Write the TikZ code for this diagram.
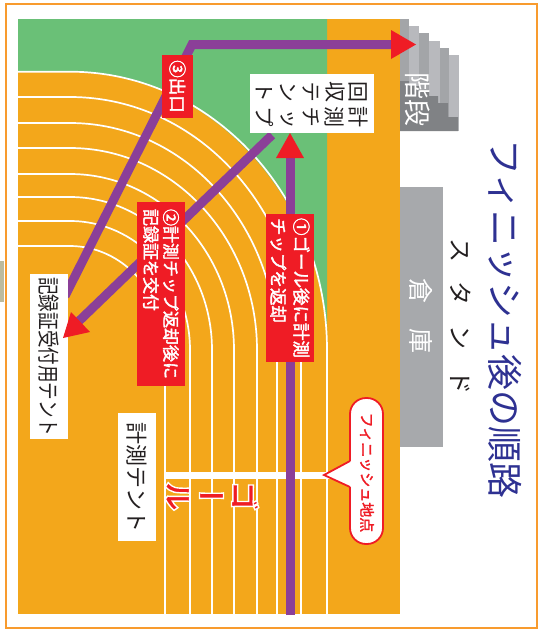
\documentclass[tikz,border=0pt]{standalone}
\usepackage{fontspec}
\setmainfont{Noto Sans CJK JP}
\newfontfamily\vertfont[RawFeature=+vert]{Noto Sans CJK JP}
\definecolor{trackorange}{HTML}{F3A71B}
\definecolor{fieldgreen}{HTML}{6AC077}
\definecolor{pathpurple}{HTML}{8B3F98}
\definecolor{labelred}{HTML}{EF1C25}
\definecolor{framecol}{HTML}{F89B2E}
\definecolor{titleblue}{HTML}{2E3192}
\definecolor{storegray}{HTML}{A7A9AC}
\definecolor{stairlight}{HTML}{B8B9BD}
\definecolor{stairdark}{HTML}{A3A5A8}
\definecolor{stairshade}{HTML}{808285}
\definecolor{inkcol}{HTML}{231F20}
\definecolor{stubcol}{HTML}{BDBB9E}
\newcommand{\halotext}[1]{\special{pdf:code 2 Tr 1 1 1 RG 1.4 w}#1\special{pdf:code 0 Tr}}
\newcommand{\thicktext}[1]{\special{pdf:code 2 Tr 1 1 1 RG 0.35 w}#1\special{pdf:code 0 Tr}}
\newcommand{\thickred}[1]{\special{pdf:code 2 Tr 0.937 0.11 0.145 RG 0.3 w}#1\special{pdf:code 0 Tr}}
\tikzset{
  trackline/.style={draw=white,line width=1.7pt},
  pathline/.style={draw=pathpurple,line width=9pt},
  tiphead/.style={fill=labelred,draw=none},
  redbox/.style={fill=labelred,text=white,inner sep=0pt,rotate=-90,align=left},
  whitebox/.style={fill=white,text=inkcol,inner sep=0pt,rotate=-90,font=\fontsize{22}{24}\selectfont},
  vcol/.style={rotate=-90,align=center,inner sep=0pt,text=inkcol,font=\vertfont\fontsize{21}{23.5}\selectfont},
}
\begin{document}
\begin{tikzpicture}[x=1pt,y=-1pt]
\useasboundingbox (0,0) rectangle (541,630);
\fill[white] (0,0) rectangle (541,630);
\fill[stubcol] (0,261) rectangle (4,302);
\draw[framecol,line width=2pt] (5.5,3.5) rectangle (536.5,628);
% field
\fill[trackorange] (18,19) rectangle (400,614);
\fill[fieldgreen] (18,19) -- (327,19) -- (327,350) .. controls (327,201.4) and (212,71.7) .. (70,71.7) -- (18,71.7) -- cycle;
% lanes
\foreach \ya/\xb in {71.7/327,97/301,123/277,148/257,174/234,197/212,221/190,246/165}{
  \pgfmathsetmacro{\rx}{\xb-70}
  \pgfmathsetmacro{\ry}{350-\ya}
  \draw[trackline] (18,\ya) -- (70,\ya) .. controls ({70+.5523*\rx},\ya) and (\xb,{350-.5523*\ry}) .. (\xb,350) -- (\xb,614);
}
\coordinate (goalL) at (165,475);
\coordinate (goalR) at (330,475);
\draw[white,line width=7pt] (goalL) -- (goalR);
% stairs
\fill[stairdark] (400,19) rectangle (409,131);
\fill[stairlight] (409,26) rectangle (419,131);
\fill[stairdark] (419,33) rectangle (429,131);
\fill[stairlight] (429,41) rectangle (440,131);
\fill[stairdark] (440,48) rectangle (449,131);
\fill[stairlight] (449,55) rectangle (459,131);
\fill[stairshade] (400,81) -- (409,81) -- (409,86) -- (419,86) -- (419,91) -- (429,91) -- (429,96) -- (438,96) -- (438,103) -- (448,103) -- (448,117) -- (458,117) -- (458,131) -- (400,131) -- cycle;
\node[text=white,rotate=-90,inner sep=0pt,font=\fontsize{27}{29}\selectfont] (stairlabel) at (418,99.5) {階段};
% store
\fill[storegray] (400,187) rectangle (443,447);
\node[text=white,rotate=-90,inner sep=0pt,font=\fontsize{25}{27}\selectfont] (store) at (421,316) {倉\hspace{25pt}庫};
\node[text=inkcol,rotate=-90,inner sep=0pt,font=\fontsize{24}{26}\selectfont] (stand) at (461,316) {ス\hspace{20pt}タ\hspace{20pt}ン\hspace{20pt}ド};
\node[text=titleblue,rotate=-90,inner sep=0pt,font=\fontsize{36}{38}\selectfont] (title) at (505,319) {フィニッシュ後の順路};
% paths
\coordinate (exitA) at (65,296);
\coordinate (exitB) at (192,44.5);
\coordinate (exitC) at (392,44.5);
\coordinate (retA) at (272,135);
\coordinate (retB) at (78,322);
\coordinate (startA) at (290,615);
\coordinate (startB) at (290,155);
\draw[pathline] (exitA) -- (exitB) -- (exitC);
\draw[pathline] (retA) -- (retB);
\draw[pathline] (startA) -- (startB);
% white boxes
\fill[white] (250,74) rectangle (374,133);
\node[vcol] (chip1) at (312,117) {計\\測\\チ\\ッ\\プ};
\node[vcol] (chip2) at (312,92) {回\\収\\テ\\ン\\ト};
\node[whitebox,minimum width=165pt,minimum height=38pt] (kiroku) at (49,356.5) {\scalebox{.8}[1]{記録証受付用テント}};
\node[whitebox,minimum width=128pt,minimum height=38pt] (keisoku) at (137,477) {計測テント};
% red labels
\node[redbox,minimum width=63pt,minimum height=31pt,font=\fontsize{17.5}{20}\selectfont] (l3) at (177.5,86.5) {\thicktext{③出口}};
\node[redbox,minimum width=184pt,minimum height=48pt,font=\fontsize{17}{20}\selectfont] (l2) at (161,294) {\thicktext{②計測チップ返却後に}\\\thicktext{記録証を交付}};
\node[redbox,minimum width=148pt,minimum height=48pt,font=\fontsize{17.5}{23}\selectfont] (l1) at (290,288) {\thicktext{①ゴール後に計測}\\\thicktext{チップを返却}};
% bubble
\draw[labelred,fill=white,line width=1.8pt,rounded corners=16pt] (350,398) rectangle (383,544);
\fill[white] (351,461) -- (324,475) -- (351,487) -- cycle;
\draw[labelred,line width=1.8pt,line join=miter] (350,461) -- (324,475) -- (350,487);
\node[text=labelred,rotate=-90,inner sep=0pt,font=\fontsize{15}{17}\selectfont] (finish) at (367,472.5) {\thickred{フィニッシュ地点}};
\node[rotate=-90,align=center,inner sep=0pt,text=labelred,font=\vertfont\bfseries\fontsize{30}{33}\selectfont] (goal) at (212,496) {\halotext{ゴ}\\\halotext{ー}\\\halotext{ル}};
% arrow heads
\fill[tiphead] (391,30) -- (416,44.5) -- (391,59) -- cycle;
\fill[tiphead] (276,158) -- (290,133) -- (304,158) -- cycle;
\fill[tiphead] (71,312) -- (63,338) -- (90,332) -- cycle;
\end{tikzpicture}
\end{document}
